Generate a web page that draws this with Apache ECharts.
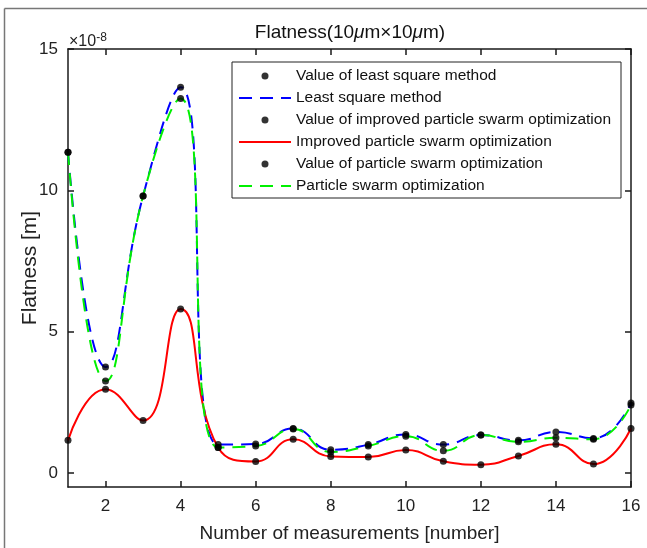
<!DOCTYPE html>
<html>
<head>
<meta charset="utf-8">
<script src="https://cdn.jsdelivr.net/npm/echarts@6/dist/echarts.min.js"></script>
<style>
html,body{margin:0;padding:0;background:#fff;}
#chart{width:647px;height:548px;}
</style>
</head>
<body>
<div id="chart"></div>
<script>
// Data (values in units of 1e-8 m)
const measurements = [1, 2, 3, 4, 5, 6, 7, 8, 9, 10, 11, 12, 13, 14, 15, 16];
const leastSquare = [11.35, 3.75, 9.8, 13.65, 1.0, 1.02, 1.57, 0.82, 1.0, 1.36, 1.0, 1.34, 1.15, 1.45, 1.22, 2.47];
const improvedPSO = [1.15, 2.96, 1.85, 5.8, 0.9, 0.4, 1.19, 0.58, 0.56, 0.81, 0.41, 0.29, 0.6, 1.01, 0.31, 1.57];
const particleSwarm = [11.35, 3.25, 9.8, 13.25, 0.9, 0.95, 1.55, 0.74, 0.95, 1.3, 0.78, 1.34, 1.1, 1.24, 1.19, 2.4];
const xTicks = [2, 4, 6, 8, 10, 12, 14, 16];
const yTicks = [0, 5, 10, 15];
const seriesNames = [
  'Value of least square method',
  'Least square method',
  'Value of improved particle swarm optimization',
  'Improved particle swarm optimization',
  'Value of particle swarm optimization',
  'Particle swarm optimization'
];

const pairs = (ys) => measurements.map((x, i) => [x, ys[i]]);
const FONT = 'Liberation Sans, Arial, sans-serif';

const chart = echarts.init(document.getElementById('chart'), null, {renderer: 'canvas'});

function lineSeries(name, ys, color, dashed) {
  return {
    name: name, type: 'line', data: pairs(ys), smooth: 0.5, showSymbol: false, symbol: 'none',
    lineStyle: {color: color, width: 2, type: dashed ? [13, 8] : 'solid'},
    itemStyle: {color: color}, z: 3
  };
}
function dotSeries(name, ys) {
  return {
    name: name, type: 'scatter', data: pairs(ys), symbol: 'circle', symbolSize: 7,
    itemStyle: {color: '#000'}, z: 5
  };
}

const axisLineStyle = {color: '#1a1a1a', width: 1.5};
const noDot = {color: 'rgba(0,0,0,0)', borderColor: 'rgba(0,0,0,0)', borderWidth: 0};

const option = {
  backgroundColor: '#fff',
  animation: false,
  grid: {left: 68, right: 16, top: 49, bottom: 55, containLabel: false},
  xAxis: [
    {
      type: 'value', min: 1, max: 16, position: 'bottom',
      axisLine: {show: true, onZero: false, lineStyle: axisLineStyle},
      axisTick: {show: true, inside: true, length: 6, customValues: xTicks, lineStyle: axisLineStyle},
      axisLabel: {customValues: xTicks, fontSize: 17, color: '#222', margin: 11, fontFamily: FONT},
      splitLine: {show: false},
      name: 'Number of measurements [number]', nameLocation: 'middle', nameGap: 37,
      nameMoveOverlap: false,
      nameTextStyle: {fontSize: 19, color: '#222', fontFamily: FONT}
    },
    {
      type: 'value', min: 1, max: 16, position: 'top',
      axisLine: {show: true, onZero: false, lineStyle: axisLineStyle},
      axisTick: {show: true, inside: true, length: 6, customValues: xTicks, lineStyle: axisLineStyle},
      axisLabel: {show: false}, splitLine: {show: false}
    }
  ],
  yAxis: [
    {
      type: 'value', min: -0.5, max: 15, position: 'left',
      axisLine: {show: true, onZero: false, lineStyle: axisLineStyle},
      axisTick: {show: true, inside: true, length: 6, customValues: yTicks, lineStyle: axisLineStyle},
      axisLabel: {customValues: yTicks, fontSize: 17, color: '#222', margin: 10, fontFamily: FONT},
      splitLine: {show: false},
      name: 'Flatness [m]', nameLocation: 'middle', nameGap: 27, nameRotate: 90,
      nameMoveOverlap: false,
      nameTextStyle: {fontSize: 21, color: '#222', fontFamily: FONT}
    },
    {
      type: 'value', min: -0.5, max: 15, position: 'right',
      axisLine: {show: true, onZero: false, lineStyle: axisLineStyle},
      axisTick: {show: true, inside: true, length: 6, customValues: yTicks, lineStyle: axisLineStyle},
      axisLabel: {show: false}, splitLine: {show: false}
    }
  ],
  legend: {
    orient: 'vertical', left: 232, top: 62,
    padding: [6, 10, 4, 6],
    itemWidth: 52, itemHeight: 7, itemGap: 6,
    backgroundColor: '#fff', borderColor: '#222', borderWidth: 1,
    textStyle: {fontSize: 15.5, color: '#111', fontFamily: FONT},
    data: [
      {name: seriesNames[0]},
      {name: seriesNames[1], itemStyle: noDot},
      {name: seriesNames[2]},
      {name: seriesNames[3], itemStyle: noDot},
      {name: seriesNames[4]},
      {name: seriesNames[5], itemStyle: noDot}
    ]
  },
  series: [
    dotSeries(seriesNames[0], leastSquare),
    lineSeries(seriesNames[1], leastSquare, '#0000ff', true),
    dotSeries(seriesNames[2], improvedPSO),
    lineSeries(seriesNames[3], improvedPSO, '#ff0000', false),
    dotSeries(seriesNames[4], particleSwarm),
    lineSeries(seriesNames[5], particleSwarm, '#00f000', true)
  ],
  graphic: [
    {type: 'line', shape: {x1: 4.5, y1: 8.5, x2: 647, y2: 8.5}, style: {stroke: '#777', lineWidth: 1.5}, silent: true},
    {type: 'line', shape: {x1: 4.5, y1: 8.5, x2: 4.5, y2: 548}, style: {stroke: '#777', lineWidth: 1.5}, silent: true},
    {
      type: 'text', x: 350, y: 33,
      style: {
        text: '{n|Flatness(10}{i|μ}{n|m×10}{i|μ}{n|m)}',
        align: 'center', verticalAlign: 'middle',
        rich: {
          n: {fontSize: 19, fill: '#111', fontFamily: FONT},
          i: {fontSize: 19, fill: '#111', fontFamily: FONT, fontStyle: 'italic'}
        }
      }
    },
    {
      type: 'text', x: 69, y: 42,
      style: {
        text: '{b|×10}{s|-8}',
        align: 'left', verticalAlign: 'middle',
        rich: {
          b: {fontSize: 16, fill: '#222', fontFamily: FONT},
          s: {fontSize: 12, fill: '#222', fontFamily: FONT, verticalAlign: 'top', padding: [0, 0, 9, 0]}
        }
      }
    }
  ]
};
chart.setOption(option);
</script>
</body>
</html>
